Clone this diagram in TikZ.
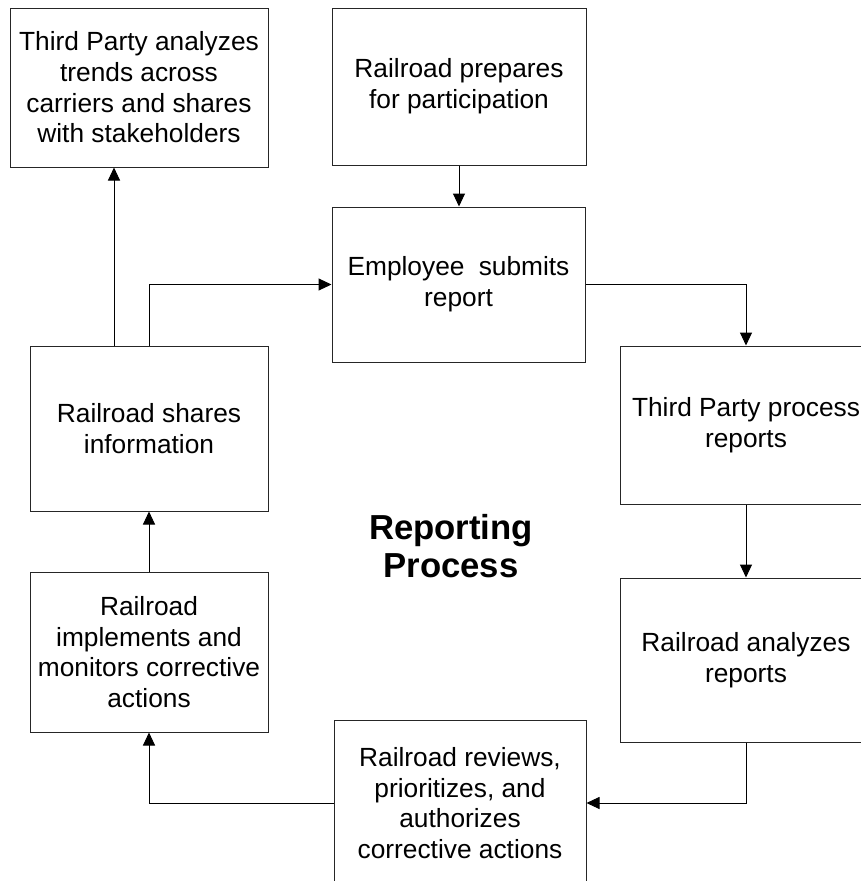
\documentclass[tikz,border=0pt]{standalone}
\usepackage{fontspec}
\setmainfont{Liberation Sans}
\usetikzlibrary{arrows.meta}
\tikzset{
  box/.style={draw=black!85, line width=1pt, rectangle, align=center, inner sep=2pt,
    font=\fontsize{26.3}{30.7}\selectfont},
  arr/.style={draw=black, line width=1pt, -{Triangle[length=13pt,width=12pt]}},
  title/.style={align=center, font=\fontsize{34.7}{38.5}\selectfont\bfseries}
}
\begin{document}
\begin{tikzpicture}[x=1pt,y=-1pt]
\useasboundingbox (0,0) rectangle (861,881);
\fill[white] (0,0) rectangle (861,881);
\clip (0,0) rectangle (861,881);
\node[box, minimum width=258pt, minimum height=159pt] (b1) at (139,87.5)
  {Third Party analyzes\\trends across\\carriers and shares\\with stakeholders};
\node[box, minimum width=254pt, minimum height=157pt] (b2) at (459,86.5)
  {Railroad prepares\\for participation};
\node[box, minimum width=253pt, minimum height=155pt] (b3) at (458.5,284.5)
  {Employee\hspace{7pt} submits\\report};
\node[box, minimum width=252pt, minimum height=158pt] (b4) at (746,425)
  {Third Party process\\reports};
\node[box, minimum width=252pt, minimum height=164pt] (b5) at (746,660)
  {Railroad analyzes\\reports};
\node[box, minimum width=252pt, minimum height=165pt] (b6) at (460,803)
  {Railroad reviews,\\prioritizes, and\\authorizes\\corrective actions};
\node[box, minimum width=238pt, minimum height=160pt] (b7) at (149,652)
  {Railroad\\implements and\\monitors corrective\\actions};
\node[box, minimum width=238pt, minimum height=165pt] (b8) at (149,428.5)
  {Railroad shares\\information};
\node[title] (t) at (451,546) {Reporting\\Process};
\draw[arr] (b2.south) -- (b2.south |- b3.north);
\draw[arr] (b3.east) -| (b4.north);
\draw[arr] (b4.south) -- (b5.north);
\draw[arr] (b5.south) |- (b6.east);
\draw[arr] (b6.west) -| (b7.south);
\draw[arr] (b7.north) -- (b8.south);
\draw[arr] (b8.north) |- (b3.west);
\draw[arr] ([xshift=-35pt]b8.north) -- ([xshift=-35pt]b8.north |- b1.south);
\end{tikzpicture}
\end{document}
